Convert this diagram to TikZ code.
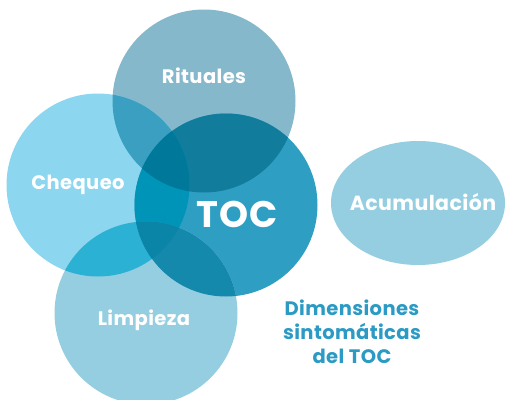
\documentclass[tikz,border=0pt]{standalone}
\usepackage{fontspec}
\setmainfont{Poppins}[LetterSpace=2]
\usetikzlibrary{positioning}

\definecolor{ritcol}{HTML}{86B8CB}
\definecolor{cheqcol}{HTML}{8DD6EF}
\definecolor{toccol}{HTML}{2E9EC3}
\definecolor{limpcol}{HTML}{95CEE1}
\definecolor{acumcol}{HTML}{95CEE1}
\definecolor{rccol}{HTML}{3A9FC0}
\definecolor{rtcol}{HTML}{117C9C}
\definecolor{ctcol}{HTML}{0094B9}
\definecolor{clcol}{HTML}{2AB1D3}
\definecolor{tlcol}{HTML}{1489AC}
\definecolor{rctcol}{HTML}{007899}
\definecolor{ctlcol}{HTML}{0A85A7}
\definecolor{titlecol}{HTML}{2B9AC4}

\tikzset{
	lbl/.style={text=white, font=\fontsize{19.5}{22}\selectfont\bfseries},
	bigllbl/.style={text=white, font=\fontsize{37}{42}\selectfont\bfseries},
	titlelbl/.style={text=titlecol, align=center, font=\fontsize{19.5}{24}\selectfont\bfseries}
}

\begin{document}
\begin{tikzpicture}[x=1pt,y=-1pt]
	\useasboundingbox (0,0) rectangle (506,399);
	\clip (0,0) rectangle (506,399);
	\def\rad{91.5}
	\coordinate (R) at (204,101);
	\coordinate (C) at (98,185);
	\coordinate (T) at (226,205);
	\coordinate (L) at (146,313);
	\coordinate (A) at (418,203);
	% circles
	\fill[ritcol] (R) circle (\rad);
	\fill[cheqcol] (C) circle (\rad);
	\fill[toccol] (T) circle (\rad);
	\fill[limpcol] (L) circle (\rad);
	\fill[acumcol] (A) ellipse (87 and 62);
	% overlaps of two
	\begin{scope}
		\clip (R) circle (\rad);
		\fill[rccol] (C) circle (\rad);
		\fill[rtcol] (T) circle (\rad);
	\end{scope}
	\begin{scope}
		\clip (C) circle (\rad);
		\fill[ctcol] (T) circle (\rad);
		\fill[clcol] (L) circle (\rad);
	\end{scope}
	\begin{scope}
		\clip (T) circle (\rad);
		\fill[tlcol] (L) circle (\rad);
	\end{scope}
	% overlaps of three
	\begin{scope}
		\clip (R) circle (\rad);
		\clip (C) circle (\rad);
		\fill[rctcol] (T) circle (\rad);
	\end{scope}
	\begin{scope}
		\clip (C) circle (\rad);
		\clip (T) circle (\rad);
		\fill[ctlcol] (L) circle (\rad);
	\end{scope}
	% labels
	\node[lbl] (rit) at (204,76) {Rituales};
	\node[lbl] (cheq) at (78,185) {Chequeo};
	\node[bigllbl] (toc) at (237,214) {TOC};
	\node[lbl] (limp) at (144,320) {Limpieza};
	\node[lbl, font=\fontsize{20.5}{22}\selectfont\bfseries] (acum) at (423,202) {Acumulación};
	\node[titlelbl] (dim) at (352,332) {Dimensiones\\sintomáticas\\del TOC};
\end{tikzpicture}
\end{document}
